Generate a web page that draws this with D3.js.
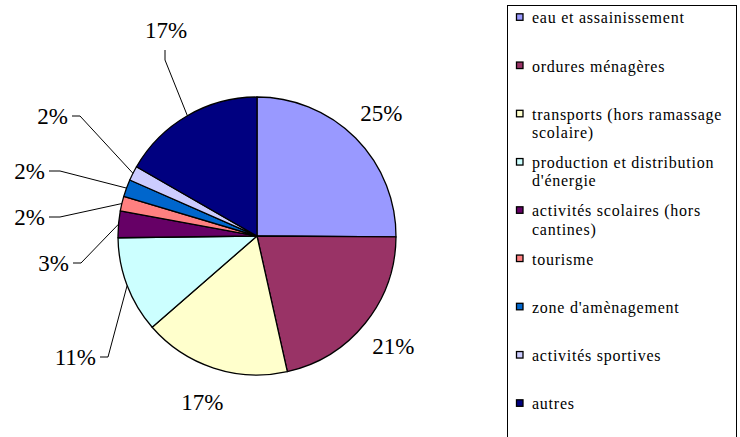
<!DOCTYPE html>
<html>
<head>
<meta charset="utf-8">
<script src="https://cdn.jsdelivr.net/npm/d3@7"></script>
<style>
  body { margin: 0; background: #fff; }
  svg { display: block; }
</style>
</head>
<body>
<div id="chart"></div>
<script>
// chart data
var categories = ["eau et assainissement", "ordures ménagères", "transports (hors ramassage scolaire)",
                  "production et distribution d'énergie", "activités scolaires (hors cantines)",
                  "tourisme", "zone d'amènagement", "activités sportives", "autres"];
var legendLines = [["eau et assainissement"], ["ordures ménagères"], ["transports (hors ramassage", "scolaire)"],
                   ["production et distribution", "d'énergie"], ["activités scolaires (hors", "cantines)"],
                   ["tourisme"], ["zone d'amènagement"], ["activités sportives"], ["autres"]];
var values = [25.1, 21.4, 17.1, 11.2, 3.1, 1.7, 2.0, 1.7, 16.7];
var colors = ["#9999FF", "#993366", "#FFFFCC", "#CCFFFF", "#660066", "#FF8080", "#0066CC", "#CCCCFF", "#000080"];

// label placement (relative to pie centre): either on a radius, or with a leader line to an elbow
var labelLayout = [
    {r: 1.26}, {r: 1.26}, {r: 1.26},
    {elbow: [-149, 121], tick: 8, dir: "h"},
    {elbow: [-176, 27], tick: 8, dir: "h"},
    {elbow: [-197, -19], tick: 11, dir: "h"},
    {elbow: [-197, -65], tick: 11, dir: "h"},
    {elbow: [-177, -120], tick: 8, dir: "h"},
    {elbow: [-92, -176], tick: 10, dir: "v"}
];

var width = 740, height = 437;
var cx = 257, cy = 236, radius = 139;

var svg = d3.select("#chart")
            .append("svg")
            .attr("width", width)
            .attr("height", height);

var total = d3.sum(values);
var pie = d3.pie().sort(null).value(function(d){ return d; });
var arcs = pie(values);
var arc = d3.arc().innerRadius(0).outerRadius(radius);

var g = svg.append("g").attr("transform", "translate(" + cx + "," + cy + ")");

g.selectAll("path.slice")
    .data(arcs)
    .enter().append("path")
    .attr("class", "slice")
    .attr("d", arc)
    .attr("fill", function(d, i){ return colors[i]; })
    .attr("stroke", "#000")
    .attr("stroke-width", 1.3)
    .attr("stroke-linejoin", "round");

var fmt = function(v){ return Math.round(v / total * 100) + "%"; };

arcs.forEach(function(d, i) {
    var lay = labelLayout[i];
    var mid = (d.startAngle + d.endAngle) / 2;
    if (lay.r) {
        var lr = radius * lay.r;
        g.append("text")
            .attr("x", Math.sin(mid) * lr)
            .attr("y", -Math.cos(mid) * lr + 8)
            .attr("text-anchor", "middle")
            .attr("font-family", "Liberation Serif")
            .attr("font-size", 23)
            .text(fmt(d.value));
        return;
    }
    var p0 = [Math.sin(mid) * radius, -Math.cos(mid) * radius];
    var e = lay.elbow;
    var p2, tx, ty, anchor;
    if (lay.dir === "h") {
        p2 = [e[0] - lay.tick, e[1]];
        tx = p2[0] - 4; ty = e[1] + 8; anchor = "end";
    } else {
        p2 = [e[0], e[1] - lay.tick];
        tx = e[0] + 1; ty = p2[1] - 12; anchor = "middle";
    }
    g.append("polyline")
        .attr("points", [p0, e, p2].map(function(p){ return p.join(","); }).join(" "))
        .attr("fill", "none")
        .attr("stroke", "#000")
        .attr("stroke-width", 1);
    g.append("text")
        .attr("x", tx)
        .attr("y", ty)
        .attr("text-anchor", anchor)
        .attr("font-family", "Liberation Serif")
        .attr("font-size", 23)
        .text(fmt(d.value));
});

// legend
var legendBox = {x: 507.5, y: 5.5, w: 229, h: 440};
svg.append("rect")
    .attr("x", legendBox.x).attr("y", legendBox.y)
    .attr("width", legendBox.w).attr("height", legendBox.h)
    .attr("fill", "#fff").attr("stroke", "#000").attr("stroke-width", 1);

var rowY = d3.scalePoint()
    .domain(categories)
    .range([23.3, 23.3 + 48.25 * (categories.length - 1)]);

var legend = svg.selectAll("g.legendEntry")
    .data(categories)
    .enter().append("g")
    .attr("class", "legendEntry")
    .attr("transform", function(d){ return "translate(0," + rowY(d) + ")"; });

legend.append("rect")
    .attr("x", 516.5).attr("y", -9.5)
    .attr("width", 6.5).attr("height", 6.5)
    .attr("fill", function(d, i){ return colors[i]; })
    .attr("stroke", "#000").attr("stroke-width", 1.3);

legend.append("text")
    .attr("font-family", "Liberation Serif")
    .attr("font-size", 16)
    .attr("letter-spacing", 0.75)
    .selectAll("tspan")
    .data(function(d, i){ return legendLines[i]; })
    .enter().append("tspan")
    .attr("x", 532)
    .attr("dy", function(d, j){ return j === 0 ? 0 : 18.3; })
    .text(function(d){ return d; });
</script>
</body>
</html>
